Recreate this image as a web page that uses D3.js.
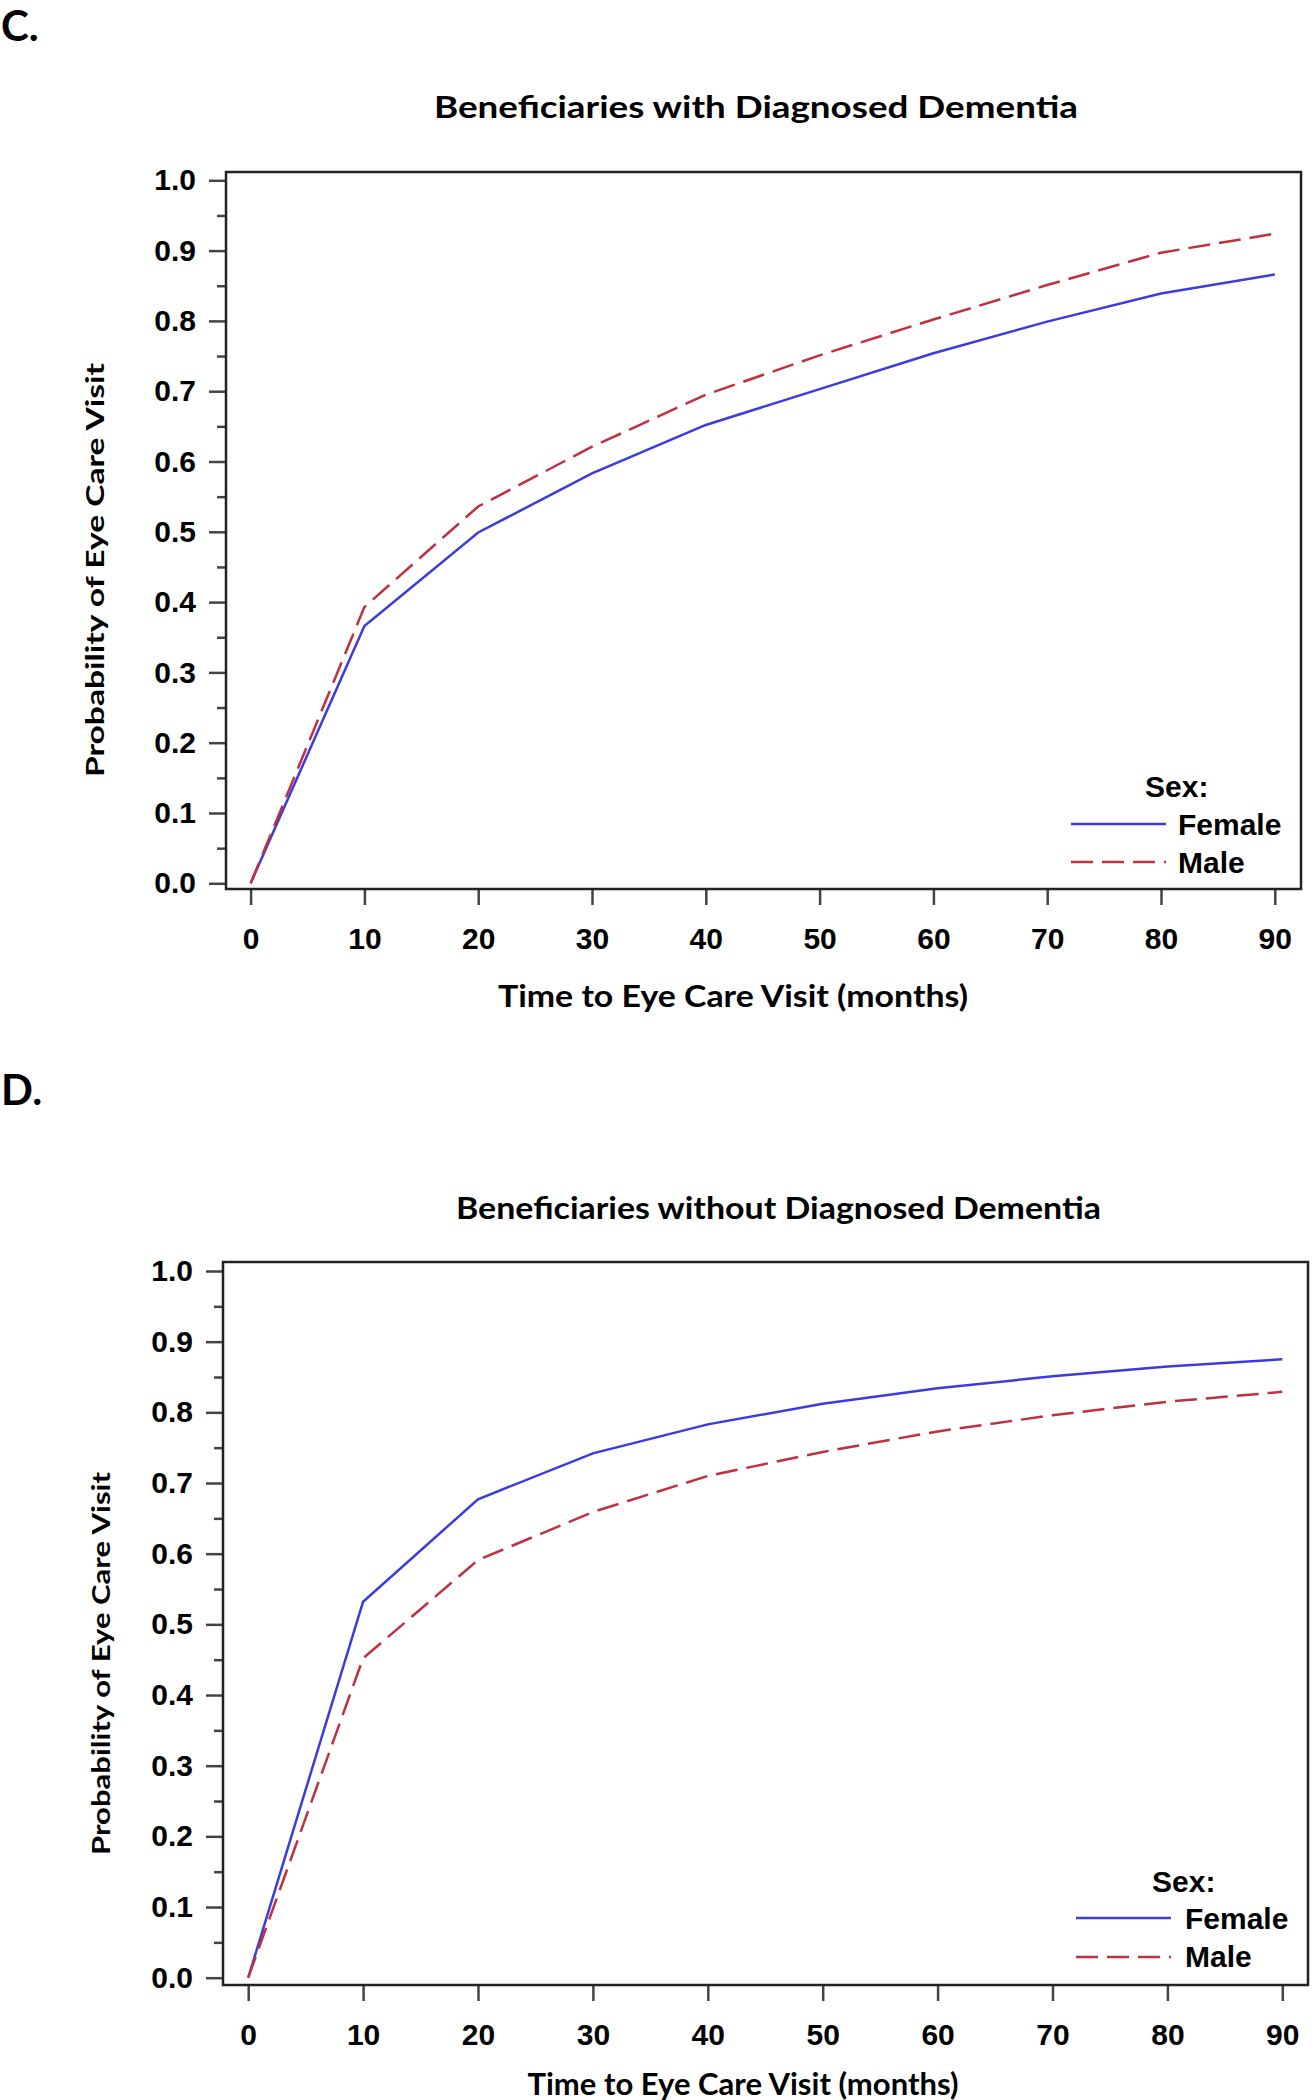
<!DOCTYPE html>
<html>
<head>
<meta charset="utf-8">
<script src="https://cdn.jsdelivr.net/npm/d3@7"></script>
<style>
  html, body { margin: 0; padding: 0; background: #fff; }
  svg { display: block; }
</style>
</head>
<body>
<svg id="chart" width="1312" height="2100"></svg>
<script>
// ---------------- DATA ----------------
const months = [0, 10, 20, 30, 40, 50, 60, 70, 80, 90];
const seriesNames = ["Female", "Male"];
// Panel C: Beneficiaries with Diagnosed Dementia
const femaleC = [0, 0.366, 0.499, 0.583, 0.652, 0.703, 0.754, 0.799, 0.839, 0.866];
const maleC   = [0, 0.393, 0.536, 0.621, 0.695, 0.751, 0.802, 0.851, 0.897, 0.924];
// Panel D: Beneficiaries without Diagnosed Dementia
const femaleD = [0, 0.532, 0.677, 0.742, 0.783, 0.812, 0.834, 0.851, 0.865, 0.875];
const maleD   = [0, 0.452, 0.591, 0.659, 0.710, 0.744, 0.773, 0.796, 0.815, 0.829];
const yTicks = [0, 0.1, 0.2, 0.3, 0.4, 0.5, 0.6, 0.7, 0.8, 0.9, 1.0];
const yMinorTicks = [0.05, 0.15, 0.25, 0.35, 0.45, 0.55, 0.65, 0.75, 0.85, 0.95];
const yTickLabels = ["0.0","0.1","0.2","0.3","0.4","0.5","0.6","0.7","0.8","0.9","1.0"];
const xTicks = [0, 10, 20, 30, 40, 50, 60, 70, 80, 90];
const xTickLabels = ["0","10","20","30","40","50","60","70","80","90"];
const panelLetters = ["C.", "D."];
const titles = ["Beneficiaries with Diagnosed Dementia", "Beneficiaries without Diagnosed Dementia"];
const xTitle = "Time to Eye Care Visit (months)";
const yTitle = "Probability of Eye Care Visit";
const legendTitle = "Sex:";

// ---------------- STYLE / LAYOUT ----------------
const colors = { Female: "#3b3be0", Male: "#c0303f" };
const dashes = { Female: null, Male: "22,9" };
const tickFont = "'Liberation Sans', Arial, sans-serif";
const titleFont = "Lato, 'Open Sans', sans-serif";

const panels = [
  {
    letter: { x: 1, y: 41 },
    title: { x: 434, y: 118, len: 644 },
    frame: { l: 226, t: 172, r: 1301, b: 889 },
    xr: [250.6, 1274.8], yr: [883.3, 180.3],
    xlab: { x: 498, y: 1007, len: 470 },
    ylab: { x: 104, y: 777, len: 414 },
    xTickBase: 949,
    legend: { sx: 1145, sy: 797, lx0: 1071, lx1: 1166, fy: 824, my: 862, tx: 1178, fty: 835, mty: 873 },
    data: { Female: femaleC, Male: maleC }
  },
  {
    letter: { x: 1, y: 1105 },
    title: { x: 456, y: 1219, len: 645 },
    frame: { l: 223, t: 1262, r: 1308, b: 1985 },
    xr: [248.2, 1282.3], yr: [1977.7, 1271],
    xlab: { x: 527.5, y: 2095, len: 431 },
    ylab: { x: 110, y: 1855, len: 383 },
    xTickBase: 2045,
    legend: { sx: 1152, sy: 1892, lx0: 1076, lx1: 1171, fy: 1918, my: 1957, tx: 1185, fty: 1929, mty: 1967 },
    data: { Female: femaleD, Male: maleD }
  }
];

const svg = d3.select("#chart");

panels.forEach((p, i) => {
  const g = svg.append("g");
  const x = d3.scaleLinear().domain([0, 90]).range(p.xr);
  const y = d3.scaleLinear().domain([0, 1]).range(p.yr);

  // panel letter
  g.append("text")
    .attr("x", p.letter.x).attr("y", p.letter.y)
    .attr("font-family", titleFont).attr("font-weight", 700)
    .attr("font-size", 42).attr("fill", "#000")
    .text(panelLetters[i]);

  // title
  g.append("text")
    .attr("x", p.title.x).attr("y", p.title.y)
    .attr("font-family", titleFont).attr("font-weight", 700)
    .attr("font-size", 30).attr("fill", "#000")
    .attr("textLength", p.title.len).attr("lengthAdjust", "spacingAndGlyphs")
    .text(titles[i]);

  // y axis (major)
  const yAxis = d3.axisLeft(y).tickValues(yTicks)
    .tickFormat((d, k) => yTickLabels[k]).tickSize(17).tickPadding(13);
  const ya = g.append("g").attr("transform", `translate(${p.frame.l},0)`).call(yAxis);
  ya.select(".domain").remove();
  ya.selectAll(".tick line").attr("stroke", "#444").attr("stroke-width", 2.5);
  ya.selectAll(".tick text").attr("font-family", tickFont).attr("font-weight", 700)
    .attr("font-size", 30).attr("fill", "#000");

  // y axis (minor)
  const yMinor = d3.axisLeft(y).tickValues(yMinorTicks).tickFormat("").tickSize(9);
  const ym = g.append("g").attr("transform", `translate(${p.frame.l},0)`).call(yMinor);
  ym.select(".domain").remove();
  ym.selectAll(".tick line").attr("stroke", "#444").attr("stroke-width", 2.5);

  // x axis
  const xAxis = d3.axisBottom(x).tickValues(xTicks)
    .tickFormat((d, k) => xTickLabels[k]).tickSize(16);
  const xa = g.append("g").attr("transform", `translate(0,${p.frame.b})`).call(xAxis);
  xa.select(".domain").remove();
  xa.selectAll(".tick line").attr("stroke", "#444").attr("stroke-width", 2.5);
  xa.selectAll(".tick text").attr("font-family", tickFont).attr("font-weight", 700)
    .attr("font-size", 30).attr("fill", "#000")
    .attr("dy", null).attr("y", p.xTickBase - p.frame.b);

  // frame
  g.append("rect")
    .attr("x", p.frame.l).attr("y", p.frame.t)
    .attr("width", p.frame.r - p.frame.l).attr("height", p.frame.b - p.frame.t)
    .attr("fill", "none").attr("stroke", "#222").attr("stroke-width", 2.5);

  // lines
  const line = d3.line().x((d, k) => x(months[k])).y(d => y(d));
  seriesNames.forEach(s => {
    g.append("path")
      .datum(p.data[s])
      .attr("d", line)
      .attr("fill", "none")
      .attr("stroke", colors[s])
      .attr("stroke-width", 2.5)
      .attr("stroke-dasharray", dashes[s]);
  });

  // axis titles
  g.append("text")
    .attr("x", p.xlab.x).attr("y", p.xlab.y)
    .attr("font-family", titleFont).attr("font-weight", 700)
    .attr("font-size", 30).attr("fill", "#000")
    .attr("textLength", p.xlab.len).attr("lengthAdjust", "spacingAndGlyphs")
    .text(xTitle);
  g.append("text")
    .attr("transform", `translate(${p.ylab.x},${p.ylab.y}) rotate(-90)`)
    .attr("font-family", titleFont).attr("font-weight", 700)
    .attr("font-size", 25).attr("fill", "#000")
    .attr("textLength", p.ylab.len).attr("lengthAdjust", "spacingAndGlyphs")
    .text(yTitle);

  // legend
  const L = p.legend;
  g.append("text").attr("x", L.sx).attr("y", L.sy)
    .attr("font-family", tickFont).attr("font-weight", 700).attr("font-size", 30)
    .text(legendTitle);
  const legRows = [
    { s: "Female", ly: L.fy, ty: L.fty },
    { s: "Male", ly: L.my, ty: L.mty }
  ];
  legRows.forEach(r => {
    g.append("line").attr("x1", L.lx0).attr("x2", L.lx1)
      .attr("y1", r.ly).attr("y2", r.ly)
      .attr("stroke", colors[r.s]).attr("stroke-width", 2.5)
      .attr("stroke-dasharray", dashes[r.s]);
    g.append("text").attr("x", L.tx).attr("y", r.ty)
      .attr("font-family", tickFont).attr("font-weight", 700).attr("font-size", 30)
      .text(r.s);
  });
});
</script>
</body>
</html>
